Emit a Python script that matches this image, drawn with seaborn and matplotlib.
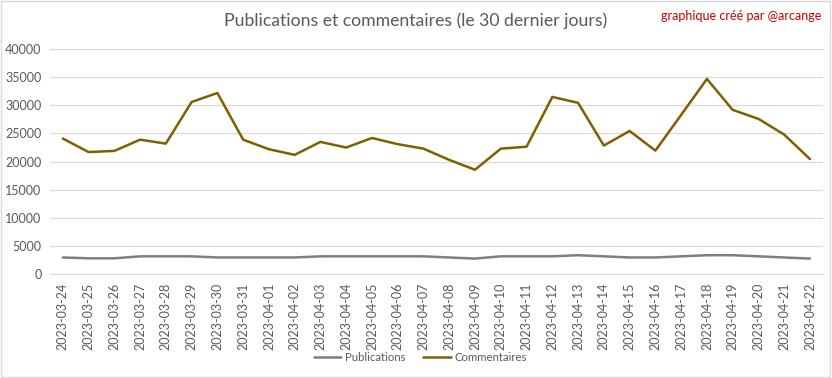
import pandas as pd
import seaborn as sns
import matplotlib.pyplot as plt
from matplotlib.patches import Rectangle

# Données
dates = pd.date_range('2023-03-24', '2023-04-22').strftime('%Y-%m-%d').tolist()
publications = [2950, 2800, 2800, 3150, 3150, 3150, 2950, 2950, 2950, 2950,
                3150, 3150, 3150, 3150, 3150, 2950, 2750, 3150, 3150, 3150,
                3350, 3150, 2950, 2950, 3150, 3350, 3350, 3150, 2950, 2750]
commentaires = [24100, 21700, 21900, 23900, 23200, 30600, 32200, 23900, 22200, 21200,
                23500, 22500, 24200, 23100, 22300, 20300, 18550, 22300, 22650, 31500,
                30450, 22850, 25450, 21950, 28300, 34700, 29200, 27600, 24800, 20450]

df = pd.DataFrame({'date': dates, 'Publications': publications, 'Commentaires': commentaires})
df_long = df.melt(id_vars='date', var_name='serie', value_name='valeur')
df_long['pos'] = df_long['date'].map({d: i for i, d in enumerate(dates)})

sns.set_style('white')
plt.rcParams['font.family'] = ['Lato', 'DejaVu Sans']

gris = '#595959'
fig = plt.figure(figsize=(8.32, 3.78), dpi=100)
ax = fig.add_axes([0.060, 0.275, 0.929, 0.595])

sns.lineplot(data=df_long, x='pos', y='valeur', hue='serie',
             palette={'Publications': '#7f7f7f', 'Commentaires': '#7f6000'},
             linewidth=1.8, ax=ax, legend=True)

ax.set_xlim(-0.5, len(dates) - 0.5)
ax.set_ylim(0, 40000)
ax.set_yticks(range(0, 40001, 5000))
ax.set_xticks(range(len(dates)))
ax.set_xticklabels(dates, rotation=90)
ax.tick_params(axis='both', length=0, colors=gris, labelsize=9, pad=6)
ax.grid(axis='y', color='#d9d9d9', linewidth=0.9)
ax.set_axisbelow(True)
for s in ['top', 'right', 'left']:
    ax.spines[s].set_visible(False)
ax.spines['bottom'].set_color('#d9d9d9')
ax.set_xlabel('')
ax.set_ylabel('')

handles, labels = ax.get_legend_handles_labels()
ax.legend(handles, labels, loc='center', bbox_to_anchor=(0.505, 0.055),
          bbox_transform=fig.transFigure, ncol=2, frameon=False,
          fontsize=8.2, labelcolor=gris, handlelength=2.4, columnspacing=1.6,
          handletextpad=0.3)

fig.text(0.5, 0.945, 'Publications et commentaires (le 30 dernier jours)',
         ha='center', va='center', fontsize=12.7, color=gris)
fig.text(0.987, 0.958, 'graphique créé par @arcange', ha='right', va='center',
         fontsize=9, color='#c00000')

fig.patches.append(Rectangle((0.001, 0.003), 0.997, 0.994, transform=fig.transFigure,
                             fill=False, edgecolor='#d9d9d9', linewidth=1))

fig.savefig('out.png', dpi=100)
